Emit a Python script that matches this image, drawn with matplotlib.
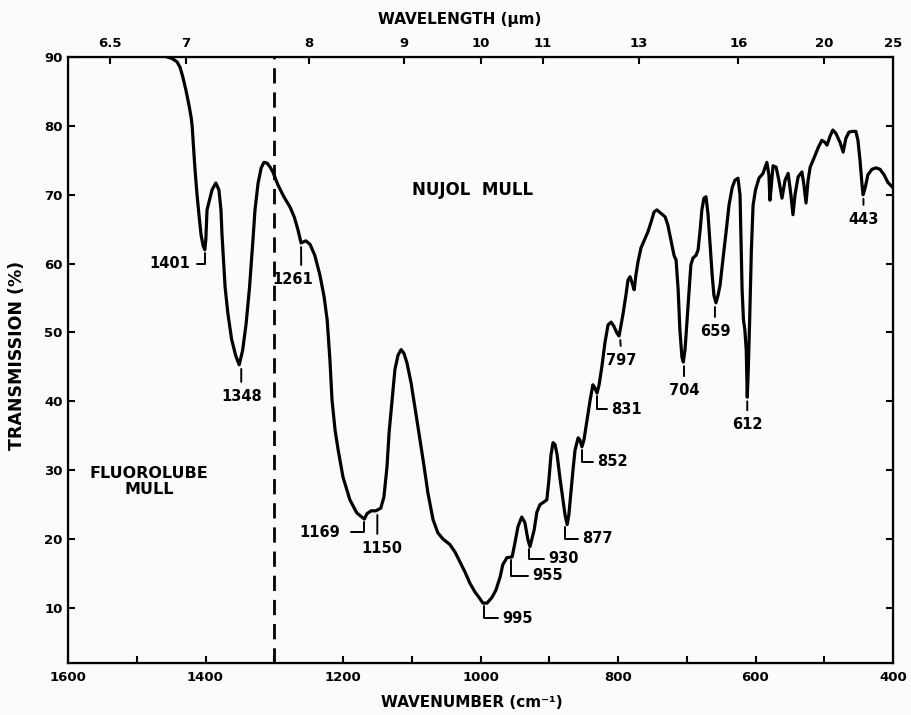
import numpy as np
import matplotlib
matplotlib.use("Agg")
import matplotlib.pyplot as plt

# spectrum (wavenumber in cm-1, transmission in %)
wavenumber = [
    1456, 1449, 1441.5, 1437, 1433, 1428.5, 1424, 1421, 1419.5, 1418, 1415.5, 1412.5,
    1409.5, 1406.5, 1403.5, 1401, 1399.5, 1397.8, 1390.5, 1385, 1380.5, 1377.5, 1376,
    1371.5, 1367.5, 1362, 1356, 1351, 1346, 1341, 1336, 1331, 1328, 1323.5, 1319, 1315,
    1310.5, 1306, 1302, 1294.5, 1286, 1277, 1271, 1265.5, 1261, 1254, 1248, 1241,
    1233.5, 1227.5, 1223, 1219, 1216, 1211.5, 1207, 1200, 1190, 1180, 1169, 1165,
    1159, 1152, 1145, 1140.5, 1136, 1133, 1128.5, 1124.5, 1120, 1115.5, 1111.5, 1107,
    1101, 1095.5, 1088, 1082, 1076.5, 1069, 1062, 1054.5, 1044.5, 1037, 1030, 1022.5,
    1015.5, 1008, 1002, 996.5, 990.5, 983.5, 977.5, 971.5, 967.5, 961.5, 954, 950,
    945.5, 940, 935.5, 931, 928, 922, 918, 913.5, 907.5, 903.5, 900.5, 897.5, 894.5,
    891.5, 888.5, 884.5, 880, 877, 874, 871.5, 868.5, 865.5, 862.5, 858, 855.5, 852.5,
    849.5, 846.5, 843.5, 840.5, 836.5, 833.5, 830.5, 827.5, 823.5, 819, 814.5, 810,
    806, 801.5, 798.5, 795.5, 792.5, 788.5, 785.5, 782.5, 779.5, 776.5, 774, 771,
    766.5, 760.5, 756.5, 752, 747.5, 743.5, 737.5, 731.5, 727.5, 723, 718.5, 715.5,
    712.5, 710, 707, 705, 702.5, 699.5, 696.5, 694, 691, 686.5, 683.5, 680.5, 678,
    675, 672, 669, 666, 663, 660.5, 657.5, 654.5, 651.5, 647.5, 643, 638.5, 634, 630,
    625.5, 622.5, 621, 619.5, 617.5, 615.5, 613.5, 612, 610.5, 608.5, 606, 603.5, 600,
    595, 589, 585, 583.5, 580.5, 579, 577.5, 574.5, 570, 566, 561.5, 557, 552.5,
    548.5, 545.5, 542.5, 538, 532.5, 529.5, 526.5, 523.5, 520.5, 515, 509, 503.5, 499,
    496, 491.5, 487.5, 483, 477, 472.5, 468.5, 464, 458, 454, 451, 448, 445, 443.5,
    440.5, 436.5, 430.5, 424.5, 419, 413, 407.5, 400,
]
transmission = [
    90.0, 89.8, 89.3, 88.5, 87.1, 85.2, 83.0, 81.3, 80.1, 77.9, 74.0, 70.2,
    67.1, 64.2, 62.6, 62.0, 63.5, 67.8, 70.7, 71.7, 70.7, 67.8, 64.2,
    56.6, 52.8, 49.0, 46.6, 45.3, 47.4, 51.2, 56.5, 63.4, 67.8, 71.7, 73.9, 74.7,
    74.6, 74.0, 73.3, 71.4, 69.7, 68.2, 66.8, 64.9, 63.0, 63.3, 62.8, 61.2,
    58.3, 55.2, 51.8, 46.0, 40.2, 35.8, 32.9, 29.0, 25.7, 23.8, 22.9, 23.7,
    24.1, 24.1, 24.5, 26.1, 30.5, 35.4, 40.2, 44.6, 46.7, 47.5, 47.0, 45.6,
    42.7, 39.2, 34.4, 30.5, 26.7, 22.8, 20.9, 20.0, 19.2, 18.1, 16.7, 15.2,
    13.6, 12.3, 11.5, 10.7, 10.7, 11.5, 12.6, 14.5, 16.3, 17.3, 17.4, 19.4,
    21.8, 23.2, 22.4, 19.9, 18.9, 21.3, 23.9, 25.0, 25.4, 25.7, 28.6, 32.2, 34.0,
    33.7, 32.2, 28.9, 25.7, 23.5, 22.1, 23.5, 26.7, 30.0, 32.9, 34.7, 34.4, 33.4,
    34.4, 36.3, 38.3, 40.2, 42.4, 41.9, 41.2, 42.4, 45.0, 48.5, 51.1, 51.5,
    50.9, 49.9, 49.5, 51.1, 52.8, 55.4, 57.6, 58.1, 57.2, 56.2, 58.3, 60.2,
    62.3, 63.7, 64.6, 66.0, 67.5, 67.8, 67.3, 66.8, 65.6, 63.4, 61.2, 60.5,
    56.2, 50.4, 46.4, 45.7, 47.5, 51.8, 56.2, 59.8, 60.8, 61.2, 62.0, 64.9, 67.8,
    69.5, 69.7, 67.1, 62.7, 58.3, 55.4, 54.3, 55.4, 56.9, 60.5, 64.4, 68.5, 71.0, 72.1,
    72.4, 70.0, 63.4, 56.2, 51.8, 50.4, 47.5, 40.6, 44.6, 51.8, 62.0, 68.5, 70.7,
    72.4, 73.1, 74.3, 74.7, 72.9, 69.2, 70.7, 74.2, 74.0, 72.1, 69.5, 72.1, 73.1,
    70.0, 67.1, 70.0, 72.6, 73.3, 71.4, 68.8, 72.1, 74.0, 75.3, 76.8, 77.9, 77.6,
    77.2, 78.5, 79.4, 78.9, 77.6, 76.2, 78.2, 79.1, 79.2, 79.2, 77.9, 75.0, 71.4, 70.0,
    71.0, 72.9, 73.7, 73.9, 73.7, 72.9, 71.8, 71.0,
]

# band labels and how the leader is drawn
down_labels = [1348, 1261, 1150, 797, 704, 659, 612, 443]
right_labels = [995, 955, 930, 877, 852, 831]
left_labels = [1401, 1169]

wavelength_ticks = [6.5, 7, 8, 9, 10, 11, 13, 16, 20, 25]
wavenumber_ticks = list(range(1600, 399, -100))
transmission_ticks = list(range(10, 91, 10))

wn = np.array(wavenumber)
tr = np.array(transmission)


def band_min(w):
    near = np.abs(wn - w) <= 4
    if near.any():
        return tr[near].min()
    return np.interp(w, wn[::-1], tr[::-1])


plt.rcParams['font.family'] = ['DejaVu Sans']
plt.rcParams['font.weight'] = 'bold'

fig = plt.figure(figsize=(9.12, 7.15), dpi=100, facecolor='#fbfbfb')
ax = fig.add_axes([68 / 912, 52 / 715, 825 / 912, 606 / 715])
ax.set_facecolor('#fbfbfb')

ax.plot(wn, tr, color='black', lw=2.3, solid_joinstyle='round', solid_capstyle='round')
ax.axvline(1300, color='black', lw=2.0, dashes=(5.5, 3.2))

ax.set_xlim(1600, 400)
ax.set_ylim(2, 90)

ax.set_xticks(wavenumber_ticks)
ax.set_xticklabels([str(v) if v % 200 == 0 else '' for v in wavenumber_ticks])
ax.set_yticks(transmission_ticks)
ax.tick_params(axis='both', direction='in', length=5, width=1.5, labelsize=9.5,
               top=False, right=True)
ax.tick_params(axis='x', pad=6)
ax.tick_params(axis='y', pad=4)
for s in ax.spines.values():
    s.set_linewidth(1.6)

ax2 = ax.twiny()
ax2.set_xlim(ax.get_xlim())
ax2.set_xticks([10000 / w for w in wavelength_ticks])
ax2.set_xticklabels([str(w) for w in wavelength_ticks])
ax2.tick_params(axis='x', direction='in', length=5, width=1.5, labelsize=9.5, pad=5)

ax.set_xlabel('WAVENUMBER (cm⁻¹)', fontsize=11, fontweight='bold')
ax.xaxis.set_label_coords(0.489, -0.053)
ax2.set_xlabel('WAVELENGTH (μm)', fontsize=11, fontweight='bold')
ax2.xaxis.set_label_coords(0.475, 1.054)
ax.set_ylabel('TRANSMISSION (%)', fontsize=12.5, fontweight='bold')
ax.yaxis.set_label_coords(-0.051, 0.508)

ax.text(1012, 70.7, 'NUJOL  MULL', fontsize=12, fontweight='bold', ha='center', va='center')
ax.text(1482, 28.3, 'FLUOROLUBE\nMULL', fontsize=11.5, fontweight='bold', ha='center',
        va='center', linespacing=1.1)

lab_kw = dict(textcoords='offset pixels', fontsize=10.5, fontweight='bold')
line_kw = dict(arrowstyle='-', lw=1.4, color='black')

# vertical tick under the band, number below
down_off = {1348: (0, 24, 0.5), 1261: (-8, 29, 0.7), 1150: (4, 30, 0.4), 797: (1, 17, 0.5),
            704: (0, 21, 0.5), 659: (0, 21, 0.5), 612: (0, 20, 0.5), 443: (0, 17, 0.5)}
for w in down_labels:
    dx, dy, rp = down_off[w]
    ax.annotate(str(w), xy=(w, band_min(w)), xytext=(dx, -dy), ha='center', va='top',
                arrowprops=dict(shrinkA=3, shrinkB=3, relpos=(rp, 1.0), **line_kw), **lab_kw)

# └ leader, number on the right
right_off = {995: (18, 15), 955: (21, 19), 930: (20, 12), 877: (17, 14), 852: (15, 15),
             831: (14, 16)}
for w in right_labels:
    dx, dy = right_off[w]
    ax.annotate(str(w), xy=(w, band_min(w)), xytext=(dx, -dy), ha='left', va='center',
                arrowprops=dict(shrinkA=1, shrinkB=2, relpos=(0, 0.5),
                                connectionstyle='angle,angleA=0,angleB=90,rad=0', **line_kw),
                **lab_kw)

# ┘ leader, number on the left
left_off = {1401: (-15, -14, 3), 1169: (-24, -13, 6)}
for w in left_labels:
    dx, dy, sa = left_off[w]
    ax.annotate(str(w), xy=(w, band_min(w)), xytext=(dx, dy), ha='right', va='center',
                arrowprops=dict(shrinkA=sa, shrinkB=2, relpos=(1, 0.5),
                                connectionstyle='angle,angleA=0,angleB=90,rad=0', **line_kw),
                **lab_kw)

fig.savefig('out.png', dpi=100, facecolor=fig.get_facecolor())
